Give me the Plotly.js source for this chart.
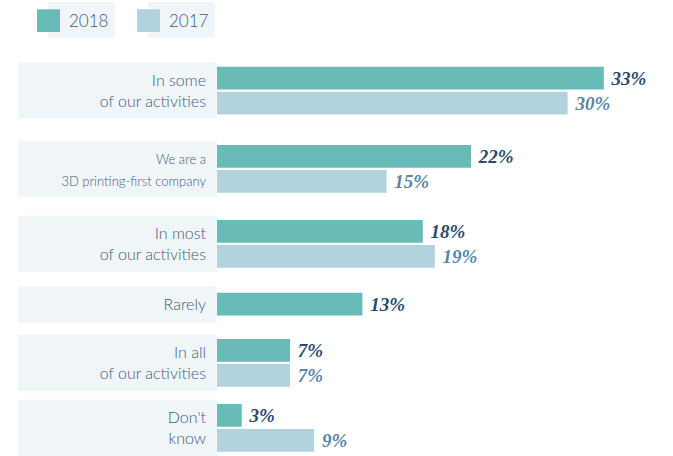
<!DOCTYPE html>
<html><head><meta charset="utf-8">
<script src="https://cdn.plot.ly/plotly-3.0.1.min.js"></script>
<style>html,body{margin:0;padding:0;background:#fff}#chart{width:673px;height:456px}</style>
</head><body><div id="chart"></div>
<script>
// ---- data ----
const categories = ['In some\nof our activities', 'We are a\n3D printing-first company', 'In most\nof our activities', 'Rarely', 'In all\nof our activities', "Don't\nknow"];
const seriesNames = ['2018', '2017'];
const values2018 = [33, 22, 18, 13, 7, 3];
const values2017 = [30, 15, 19, null, 7, 9];

// ---- styling / layout ----
const W = 673, H = 456;
const px = x => x / W, py = y => 1 - y / H;
const barColors = {'2018': '#69bbb8', '2017': '#b2d3dd'};
const valueColors = {'2018': '#2b4b6d', '2017': '#5b85a6'};
const boxColor = '#f0f5f8';
const labelColor = '#3f5d7a';
const groupTop = [65.55, 143.85, 218.85, 291.55, 337.85, 402.85];
const smallLabel = [false, true, false, false, false, false];

const traces = [], shapes = [], annotations = [];
const layout = {
  width: W, height: H,
  margin: {l: 0, r: 0, t: 0, b: 0, pad: 0},
  paper_bgcolor: '#ffffff', plot_bgcolor: 'rgba(0,0,0,0)',
  showlegend: false,
  barmode: 'group', bargap: 0, bargroupgap: 0.092,
  xaxis: {domain: [px(217), 1], range: [0.95, 0.95 + (W - 217) / 12.07], visible: false, fixedrange: true},
  font: {family: 'Lato, sans-serif', color: labelColor}
};

categories.forEach((cat, i) => {
  const yName = i === 0 ? 'y' : 'y' + (i + 1);
  const axKey = i === 0 ? 'yaxis' : 'yaxis' + (i + 1);
  const two = values2017[i] !== null;
  const hgt = two ? 50 : 25;
  const top = groupTop[i];
  const label = cat.replace('\n', '<br>');
  const tick = smallLabel[i] ? '<span style="font-size:13px">' + label + '</span>' : label;
  layout[axKey] = {
    domain: [py(top + hgt), py(top)], anchor: 'x', type: 'category',
    showgrid: false, zeroline: false, showline: false, ticks: '',
    tickmode: 'array', tickvals: [label], ticktext: [tick],
    tickfont: {family: 'Lato, sans-serif', size: smallLabel[i] ? 16.7 : 16, color: labelColor, weight: 300},
    ticklabelstandoff: 10, fixedrange: true
  };
  const mk = (name, v) => ({
    type: 'bar', orientation: 'h', name: name, y: [label], x: [v],
    xaxis: 'x', yaxis: yName,
    marker: {color: barColors[name], line: {width: 0}},
    text: ['\u00a0' + v + '%'], textposition: 'outside', cliponaxis: false, constraintext: 'none',
    textfont: {family: 'Liberation Serif, serif', size: 19, weight: 'bold', style: 'italic', color: valueColors[name]},
    hoverinfo: 'skip'
  });
  if (two) traces.push(mk('2017', values2017[i]));
  traces.push(mk('2018', values2018[i]));
  shapes.push({type: 'rect', xref: 'paper', yref: yName + ' domain', x0: px(18), x1: px(216.7),
    y0: two ? -0.057 : -0.24, y1: two ? 1.06 : 1.2, fillcolor: boxColor, line: {width: 0}, layer: 'below'});
});

// custom legend
const legX = [37, 137];
seriesNames.forEach((s, k) => {
  const x = legX[k];
  shapes.push({type: 'rect', xref: 'paper', yref: 'paper', x0: px(x + 11), x1: px(x + 77.5), y0: py(37.7), y1: py(2),
    fillcolor: boxColor, line: {width: 0}, layer: 'below'});
  shapes.push({type: 'rect', xref: 'paper', yref: 'paper', x0: px(x), x1: px(x + 23), y0: py(32), y1: py(9.3),
    fillcolor: barColors[s], line: {width: 0}, layer: 'above'});
  annotations.push({xref: 'paper', yref: 'paper', x: px(x + 30), y: py(20.7), xanchor: 'left', yanchor: 'middle',
    text: s, showarrow: false, font: {family: 'Lato, sans-serif', size: 17, color: labelColor, weight: 300}});
});
layout.shapes = shapes;
layout.annotations = annotations;

Plotly.newPlot('chart', traces, layout, {staticPlot: true, displayModeBar: false});
</script></body></html>
